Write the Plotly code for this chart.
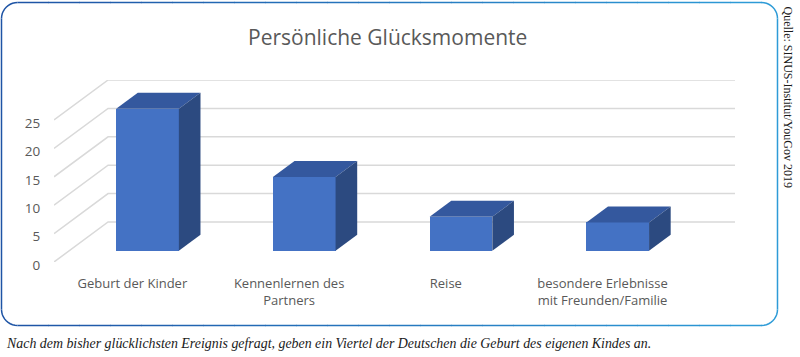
import math
import plotly.graph_objects as go

# ---- data ----
categories = ["Geburt der Kinder", "Kennenlernen des<br>Partners", "Reise",
              "besondere Erlebnisse<br>mit Freunden/Familie"]
values = [25, 13, 6, 5]
tick_values = [0, 5, 10, 15, 20, 25]
title_text = "Persönliche Glücksmomente"
source_text = "Quelle: SINUS-Institut/YouGov 2019"
caption_text = ("Nach dem bisher glücklichsten Ereignis gefragt, geben ein Viertel "
                "der Deutschen die Geburt des eigenen Kindes an.")

# ---- style / projection constants ----
W, H = 800, 357
ML, MR, MT, MB = 54, 65, 80, 95
KX = 0.345          # x shift (category units) for full depth
KY = 7.04           # y shift (value units) for full depth
D_F, D_B = 0.28, 0.68   # bar front / back depth fractions
BW = 0.40           # bar width (category units)
FRONT = "#4472C4"
TOP = "#34589E"
SIDE = "#2C4A80"
GRID = "#D9D9D9"
TXT = "#595959"

n = len(categories)
x_idx = list(range(n))
xr = [-0.5, n - 0.5 + KX]
yr = [0, max(tick_values) + KY]

fig = go.Figure()
shapes = []

# back-wall gridlines and left-wall diagonals (below the bars)
for v in tick_values:
    shapes.append(dict(type="path", xref="x", yref="y", layer="below",
                       path="M %f,%f L %f,%f L %f,%f" % (xr[0], v, xr[0] + KX, v + KY, xr[1], v + KY),
                       line=dict(color=GRID, width=1.5)))

# bars: front face (go.Bar) + top and side faces
fx = [i + D_F * KX for i in x_idx]
fig.add_trace(go.Bar(x=fx, y=values, base=[D_F * KY] * n, width=BW,
                     marker=dict(color=FRONT, line=dict(width=0)),
                     showlegend=False))
for i, v in zip(x_idx, values):
    x0 = i + D_F * KX - BW / 2
    x1 = i + D_F * KX + BW / 2
    y0 = D_F * KY
    dx = (D_B - D_F) * KX
    dy = (D_B - D_F) * KY
    top_y = v + y0
    fig.add_trace(go.Scatter(
        x=[x0, x1, x1 + dx, x0 + dx, x0],
        y=[top_y, top_y, top_y + dy, top_y + dy, top_y],
        fill="toself", fillcolor=TOP, mode="lines", line=dict(width=0, color=TOP),
        hoverinfo="skip", showlegend=False, cliponaxis=False))
    fig.add_trace(go.Scatter(
        x=[x1, x1 + dx, x1 + dx, x1, x1],
        y=[y0, y0 + dy, top_y + dy, top_y, y0],
        fill="toself", fillcolor=SIDE, mode="lines", line=dict(width=0, color=SIDE),
        hoverinfo="skip", showlegend=False, cliponaxis=False))

fig.update_xaxes(range=xr, tickvals=x_idx, ticktext=categories, showgrid=False,
                 zeroline=False, showline=False, ticks="outside", ticklen=9,
                 tickcolor="rgba(0,0,0,0)", tickfont=dict(family="Open Sans", size=13, color=TXT),
                 fixedrange=True)
fig.update_yaxes(range=yr, tickvals=tick_values, showgrid=False, zeroline=False,
                 showline=False, ticks="outside", ticklen=10, tickcolor="rgba(0,0,0,0)",
                 ticklabelshift=3,
                 tickfont=dict(family="Open Sans", size=13.5, color=TXT), fixedrange=True)

# ---- frame (rounded border with gradient-ish colour) ----
def px(xp):
    return (xp - ML) / (W - ML - MR)

def py(yp):
    return (H - MB - yp) / (H - MT - MB)

bx0, bx1, by0, by1, r = 1.5, 777.5, 2.5, 325.5, 16
c_left = (30, 84, 165)
c_right = (45, 155, 215)

def mix(t):
    c = [int(round(a + (b - a) * t)) for a, b in zip(c_left, c_right)]
    return "rgb(%d,%d,%d)" % tuple(c)

def seg_path(pts):
    s = "M %f,%f" % (px(pts[0][0]), py(pts[0][1]))
    for p in pts[1:]:
        s += " L %f,%f" % (px(p[0]), py(p[1]))
    return s

def arc(cx, cy, a0, a1, k=10):
    return [(cx + r * math.cos(math.radians(a0 + (a1 - a0) * j / k)),
             cy + r * math.sin(math.radians(a0 + (a1 - a0) * j / k))) for j in range(k + 1)]

for pts, t in [(arc(bx0 + r, by0 + r, 180, 270), 0.0),
               (arc(bx0 + r, by1 - r, 90, 180), 0.0),
               (arc(bx1 - r, by0 + r, 270, 360), 1.0),
               (arc(bx1 - r, by1 - r, 0, 90), 1.0),
               ([(bx0, by0 + r), (bx0, by1 - r)], 0.0),
               ([(bx1, by0 + r), (bx1, by1 - r)], 1.0)]:
    shapes.append(dict(type="path", xref="paper", yref="paper", path=seg_path(pts),
                       line=dict(color=mix(t), width=1.5)))
NSEG = 24
for yy in (by0, by1):
    for k in range(NSEG):
        xa = bx0 + r + (bx1 - bx0 - 2 * r) * k / NSEG
        xb = bx0 + r + (bx1 - bx0 - 2 * r) * (k + 1) / NSEG
        shapes.append(dict(type="line", xref="paper", yref="paper",
                           x0=px(xa), x1=px(xb + 0.5), y0=py(yy), y1=py(yy),
                           line=dict(color=mix((k + 0.5) / NSEG), width=1.5)))

annotations = [
    dict(text=title_text, xref="paper", yref="paper", x=px(387), y=py(37),
         xanchor="center", yanchor="middle", showarrow=False,
         font=dict(family="Open Sans", size=21, color=TXT)),
    dict(text=source_text, xref="paper", yref="paper", x=px(787), y=py(4),
         xanchor="center", yanchor="top", textangle=90, showarrow=False,
         font=dict(family="Liberation Serif", size=12, color="#1a1a1a")),
    dict(text="<i>" + caption_text + "</i>", xref="paper", yref="paper", x=px(4), y=py(343),
         xanchor="left", yanchor="middle", showarrow=False,
         font=dict(family="Liberation Serif", size=13.9, color="#1a1a1a")),
]

fig.update_layout(width=W, height=H, autosize=False,
                  margin=dict(l=ML, r=MR, t=MT, b=MB),
                  paper_bgcolor="white", plot_bgcolor="rgba(0,0,0,0)",
                  shapes=shapes, annotations=annotations, bargap=0,
                  showlegend=False)

fig.write_html("out.html", config={"displayModeBar": False})
